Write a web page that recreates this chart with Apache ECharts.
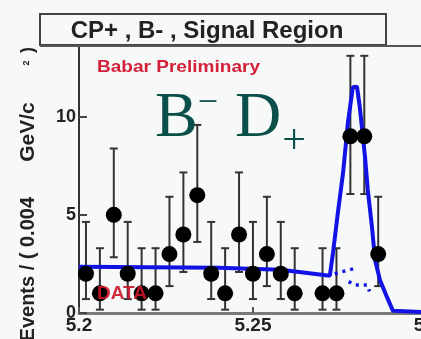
<!DOCTYPE html>
<html>
<head>
<meta charset="utf-8">
<script src="https://cdn.jsdelivr.net/npm/echarts@6/dist/echarts.min.js"></script>
<style>html,body{margin:0;padding:0;background:#f6f9f7;}#c{width:421px;height:339px;}</style>
</head>
<body>
<div id="c"></div>
<script>
// Data
const binCenters = [5.202, 5.206, 5.210, 5.214, 5.218, 5.222, 5.226, 5.230, 5.234, 5.238, 5.242, 5.246, 5.250, 5.254, 5.258, 5.262, 5.270, 5.274, 5.278, 5.282, 5.286];
const counts     = [2, 1, 5, 2, 1, 1, 3, 4, 6, 2, 1, 4, 2, 3, 2, 1, 1, 1, 9, 9, 3];
const errLow     = [0.71, 0.17, 2.84, 0.71, 0.17, 0.17, 1.37, 2.09, 3.62, 0.71, 0.17, 2.09, 0.71, 1.37, 0.71, 0.17, 0.17, 0.17, 6.06, 6.06, 1.37];
const errHigh    = [4.64, 3.30, 8.38, 4.64, 3.30, 3.30, 5.92, 7.16, 9.58, 4.64, 3.30, 7.16, 4.64, 5.92, 4.64, 3.30, 3.30, 3.30, 13.1, 13.1, 5.92];

const fitX = [5.2, 5.24, 5.258, 5.2721, 5.2730, 5.2744, 5.2759, 5.2773, 5.2787, 5.2799, 5.2807, 5.2822, 5.2830, 5.2842, 5.2851, 5.2865, 5.2885, 5.2902, 5.2983];
const fitY = [2.35, 2.3, 2.2, 1.9, 3.06, 5.1, 7.14, 9.7, 11.5, 11.53, 10.5, 7.96, 6.28, 4.39, 2.7, 1.68, 0.82, 0.12, 0.05];

const bkgUpperX = [5.2735, 5.2760, 5.2800];
const bkgUpperY = [2.0, 2.12, 2.3];
const bkgLowerX = [5.2775, 5.2795, 5.2828, 5.2835];
const bkgLowerY = [1.6, 1.42, 1.43, 1.1];

const xTickValues = [5.2, 5.25];
const xCutLabel = '5.3';
const yTickValues = [0, 5, 10];

const zip = (a, b) => a.map((v, i) => [v, b[i]]);
const FONT = 'Liberation Sans, Arial, Helvetica, sans-serif';
const SERIF = 'Liberation Serif, Times New Roman, serif';
const blue = '#1212e6';

const chart = echarts.init(document.getElementById('c'), null, {renderer: 'canvas'});
chart.setOption({
  backgroundColor: '#f6f9f7',
  animation: false,
  grid: {left: 79, right: 0, top: 46, bottom: 26, containLabel: false},
  xAxis: {
    type: 'value', min: 5.2, max: 5.2983,
    axisLine: {show: true, onZero: false, lineStyle: {color: '#7a7a7a', width: 3}},
    axisTick: {show: true, inside: true, length: 6, customValues: xTickValues, lineStyle: {color: '#555', width: 2}},
    axisLabel: {customValues: xTickValues, margin: 3, color: '#222', fontSize: 19, fontWeight: 'bold', fontFamily: FONT,
      formatter: v => String(+v.toFixed(2))},
    splitLine: {show: false}
  },
  yAxis: {
    type: 'value', min: 0, max: 13.6, interval: 5,
    axisLine: {show: true, lineStyle: {color: '#333', width: 2}},
    axisTick: {show: true, inside: true, length: 8, customValues: yTickValues, lineStyle: {color: '#444', width: 2}},
    axisLabel: {customValues: yTickValues, margin: 3, color: '#222', fontSize: 18, fontWeight: 'bold', fontFamily: FONT},
    splitLine: {show: false}
  },
  series: [
    {
      type: 'custom', z: 2,
      data: binCenters.map((x, i) => [x, errLow[i], errHigh[i]]),
      renderItem: function (params, api) {
        const lo = api.coord([api.value(0), api.value(1)]);
        const hi = api.coord([api.value(0), api.value(2)]);
        const c = 4;
        const st = {stroke: '#333', lineWidth: 2};
        return {type: 'group', children: [
          {type: 'line', shape: {x1: lo[0], y1: lo[1], x2: hi[0], y2: hi[1]}, style: st},
          {type: 'line', shape: {x1: lo[0] - c, y1: lo[1], x2: lo[0] + c, y2: lo[1]}, style: st},
          {type: 'line', shape: {x1: hi[0] - c, y1: hi[1], x2: hi[0] + c, y2: hi[1]}, style: st}
        ]};
      }
    },
    {
      type: 'line', z: 3, data: zip(fitX, fitY), symbol: 'none', smooth: false, clip: false,
      lineStyle: {color: blue, width: 4}
    },
    {
      type: 'line', z: 3, data: zip(bkgUpperX, bkgUpperY), symbol: 'none', clip: false,
      lineStyle: {color: blue, width: 3.5, type: [3, 5]}
    },
    {
      type: 'line', z: 3, data: zip(bkgLowerX, bkgLowerY), symbol: 'none', clip: false,
      lineStyle: {color: blue, width: 3.5, type: [3, 5]}
    },
    {
      type: 'scatter', z: 4, data: zip(binCenters, counts), symbol: 'circle', symbolSize: 16,
      itemStyle: {color: '#000', opacity: 1}
    }
  ],
  graphic: [
    {type: 'rect', z: 10, shape: {x: 40, y: 14, width: 346, height: 31}, style: {fill: '#f6f9f7', stroke: '#444', lineWidth: 2}},
    {type: 'line', z: 10, shape: {x1: 40, y1: 46, x2: 421, y2: 46}, style: {stroke: '#555', lineWidth: 2}},
    {type: 'text', z: 11, x: 207, y: 31, style: {text: 'CP+ , B- , Signal Region', font: 'bold 24px ' + FONT, fill: '#222', align: 'center', verticalAlign: 'middle'}},
    {type: 'text', z: 11, x: 97, y: 67, scaleX: 1.12, style: {text: 'Babar Preliminary', font: 'bold 17px ' + FONT, fill: '#d4203a', align: 'left', verticalAlign: 'middle'}},
    {type: 'text', z: 11, x: 155, y: 119, style: {text: 'B', font: '64px ' + SERIF, fill: '#0b4f4b', align: 'left', verticalAlign: 'middle'}},
    {type: 'text', z: 11, x: 208, y: 104, style: {text: '\u2212', font: '36px ' + SERIF, fill: '#0b4f4b', align: 'center', verticalAlign: 'middle'}},
    {type: 'text', z: 11, x: 235, y: 119, style: {text: 'D', font: '64px ' + SERIF, fill: '#0b4f4b', align: 'left', verticalAlign: 'middle'}},
    {type: 'text', z: 11, x: 294, y: 142, style: {text: '+', font: '42px ' + SERIF, fill: '#0b4f4b', align: 'center', verticalAlign: 'middle'}},
    {type: 'text', z: 11, x: 122, y: 294, style: {text: 'DATA', font: 'bold 19px ' + FONT, fill: '#cc1428', opacity: 0.9, align: 'center', verticalAlign: 'middle'}},
    {type: 'text', z: 11, x: 427, y: 316, style: {text: xCutLabel, font: 'bold 19px ' + FONT, fill: '#222', align: 'center', verticalAlign: 'top'}},
    {type: 'text', z: 11, x: 28, y: 297, rotation: Math.PI / 2, style: {text: 'Events / (', font: 'bold 20px ' + FONT, fill: '#222', align: 'center', verticalAlign: 'middle'}},
    {type: 'text', z: 11, x: 28, y: 222, rotation: Math.PI / 2, style: {text: '0.004', font: 'bold 20px ' + FONT, fill: '#222', align: 'center', verticalAlign: 'middle'}},
    {type: 'text', z: 11, x: 28, y: 132, rotation: Math.PI / 2, style: {text: 'GeV/c', font: 'bold 21px ' + FONT, fill: '#222', align: 'center', verticalAlign: 'middle'}},
    {type: 'text', z: 11, x: 27, y: 63, rotation: Math.PI / 2, style: {text: '2', font: 'bold 9px ' + FONT, fill: '#222', align: 'center', verticalAlign: 'middle'}},
    {type: 'text', z: 11, x: 28, y: 50, rotation: Math.PI / 2, style: {text: ')', font: 'bold 18px ' + FONT, fill: '#222', align: 'center', verticalAlign: 'middle'}}
  ]
});
</script>
</body>
</html>
